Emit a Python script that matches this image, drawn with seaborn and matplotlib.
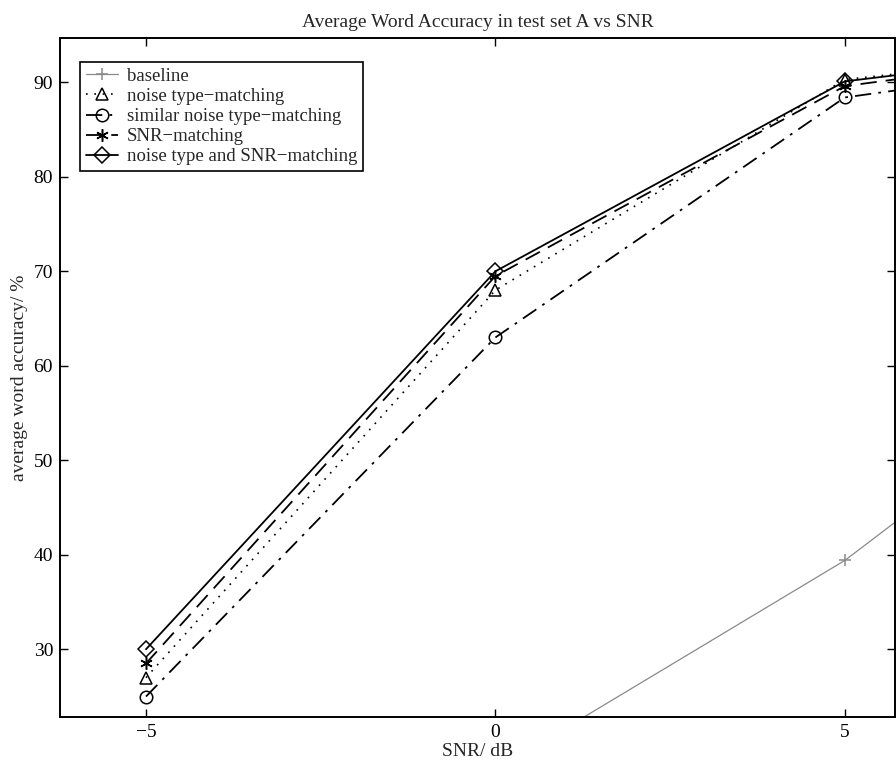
import matplotlib
matplotlib.use("Agg")
import matplotlib.pyplot as plt
import seaborn as sns

snr = [-5, 0, 5, 10]
baseline = [8.0, 17.2, 39.4, 67.5]
noise_type = [27.0, 68.0, 90.3, 94.3]
similar_noise = [25.0, 63.0, 88.4, 93.5]
snr_match = [28.5, 69.5, 89.6, 94.5]
type_and_snr = [30.0, 70.0, 90.1, 94.6]

labels = ["baseline", "noise type\u2212matching", "similar noise type\u2212matching",
          "SNR\u2212matching", "noise type and SNR\u2212matching"]

sns.set_theme(style="ticks")
plt.rcParams["font.family"] = ["Liberation Serif", "DejaVu Serif"]
plt.rcParams["axes.unicode_minus"] = True

fig = plt.figure(figsize=(8.96, 7.68), dpi=100)
ax = fig.add_axes([0.067, 0.066, 0.932, 0.884])

styles = [
    (baseline, "-", "+", "#8a8a8a", 0.9, 8),
    (noise_type, (0, (1, 4)), "^", "black", 1.2, 9),
    (similar_noise, (0, (9, 4, 1.5, 4)), "o", "black", 1.3, 9),
    (snr_match, (0, (9, 5)), (6, 2, 0), "black", 1.3, 9),
    (type_and_snr, "-", "D", "black", 1.3, 8),
]
for (vals, ls, mk, col, lw, ms), lab in zip(styles, labels):
    sns.lineplot(x=snr, y=vals, ax=ax, linestyle=ls, marker=mk, color=col,
                 linewidth=lw, markersize=ms, markerfacecolor="none",
                 markeredgecolor=col, markeredgewidth=1.1, label=lab,
                 sort=False, estimator=None)

ax.set_xlim(-6.23, 5.72)
ax.set_ylim(22.8, 94.65)
ax.set_xticks([-5, 0, 5])
ax.set_yticks([30, 40, 50, 60, 70, 80, 90])
ax.tick_params(direction="in", top=True, right=True, length=6, width=1,
               labelsize=14, colors="black", pad=5)
for s in ax.spines.values():
    s.set_linewidth(1.4)
    s.set_color("black")

ax.set_title("Average Word Accuracy in test set A vs SNR", fontsize=14, pad=8)
ax.set_xlabel("SNR/ dB", fontsize=14, labelpad=1)
ax.set_ylabel("average word accuracy/ %", fontsize=14, labelpad=4)

leg = ax.legend(loc="upper left", bbox_to_anchor=(0.024, 0.965), borderaxespad=0,
                fancybox=False, framealpha=1, edgecolor="black", fontsize=13.5,
                handlelength=1.7, labelspacing=0.16, borderpad=0.3, handletextpad=0.5)
leg.get_frame().set_linewidth(1.2)

fig.savefig("out.png", dpi=100)
